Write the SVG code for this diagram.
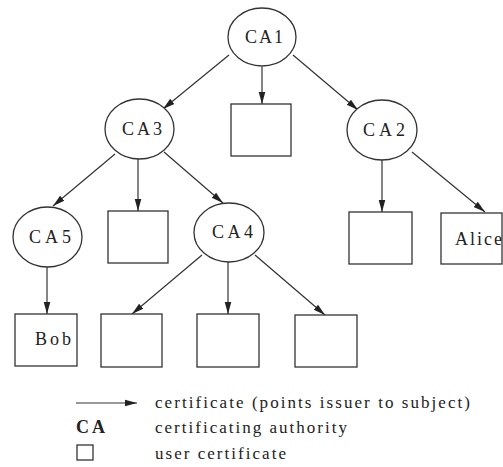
<svg xmlns="http://www.w3.org/2000/svg" width="503" height="467" viewBox="0 0 503 467">
<style>
.n{fill:#fff;stroke:#333;stroke-width:1.3}
.e line{stroke:#333;stroke-width:1.2;marker-end:url(#ah)}
text{font-family:"Liberation Serif","Times New Roman",serif;fill:#222;font-size:18px}
.l{font-size:17px}
</style>
<defs>
<marker id="ah" markerUnits="userSpaceOnUse" markerWidth="13" markerHeight="9" refX="12" refY="4.5" orient="auto">
<path d="M0,1.2 L12,4.5 L0,7.8 Z" fill="#222"/>
</marker>
</defs>
<rect width="503" height="467" fill="#fff"/>
<g class="e" id="connectors">
<line x1="229" y1="55" x2="163" y2="109"/>
<line x1="262" y1="67" x2="262" y2="104"/>
<line x1="293" y1="55" x2="358" y2="110"/>
<line x1="115" y1="154" x2="53" y2="206"/>
<line x1="138" y1="159" x2="138" y2="211"/>
<line x1="164" y1="152" x2="223" y2="203"/>
<line x1="382" y1="160" x2="382" y2="212"/>
<line x1="412" y1="152" x2="485" y2="212"/>
<line x1="47" y1="267" x2="47" y2="314"/>
<line x1="202" y1="255" x2="132" y2="314"/>
<line x1="228" y1="262" x2="228" y2="314"/>
<line x1="255" y1="255" x2="325" y2="315"/>
</g>
<g id="CA1"><ellipse class="n" cx="262" cy="37" rx="34" ry="29"/><text x="245" y="43" textLength="38">CA1</text></g>
<g id="CA3"><ellipse class="n" cx="139.5" cy="129" rx="34.5" ry="30"/><text x="122" y="135" textLength="40">CA3</text></g>
<g id="CA2"><ellipse class="n" cx="382" cy="130" rx="35" ry="30"/><text x="363" y="136" textLength="42">CA2</text></g>
<g id="CA5"><ellipse class="n" cx="47.5" cy="237" rx="34.5" ry="30"/><text x="29" y="243" textLength="42">CA5</text></g>
<g id="CA4"><ellipse class="n" cx="229" cy="232.5" rx="35" ry="29.5"/><text x="212" y="238" textLength="41">CA4</text></g>
<g id="U1"><rect class="n" x="231" y="104" width="60" height="52"/></g>
<g id="U2"><rect class="n" x="108" y="211" width="60" height="52"/></g>
<g id="U3"><rect class="n" x="349" y="212" width="63" height="52"/></g>
<g id="Alice"><rect class="n" x="441" y="213" width="61" height="51"/><text x="455" y="245" textLength="47">Alice</text></g>
<g id="Bob"><rect class="n" x="15" y="314" width="62" height="52"/><text x="35" y="345" textLength="36">Bob</text></g>
<g id="U4"><rect class="n" x="101" y="314" width="61" height="53"/></g>
<g id="U5"><rect class="n" x="197" y="314" width="62" height="53"/></g>
<g id="U6"><rect class="n" x="295" y="315" width="62" height="52"/></g>
<g id="legend">
<line x1="76" y1="403" x2="137" y2="403" stroke="#333" stroke-width="1.2" marker-end="url(#ah)"/>
<text class="l" x="155" y="408" textLength="315">certificate (points issuer to subject)</text>
<text x="76" y="433" font-size="15" font-weight="bold" textLength="29">CA</text>
<text class="l" x="155" y="433" textLength="192">certificating authority</text>
<rect class="n" x="77" y="445" width="16" height="15"/>
<text class="l" x="155" y="459" textLength="131">user certificate</text>
</g>
</svg>
